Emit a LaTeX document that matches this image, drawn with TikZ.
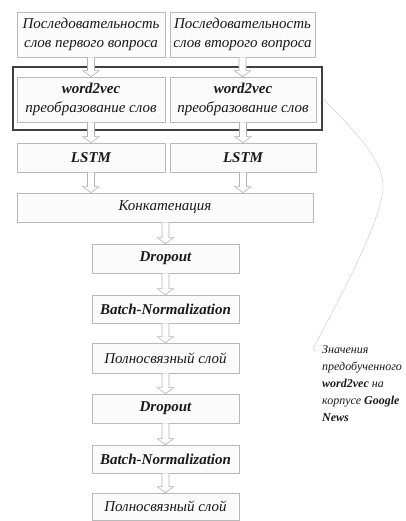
\documentclass[tikz,border=0pt]{standalone}
\usepackage{fontspec}
\setmainfont{Liberation Serif}
\usetikzlibrary{calc}

% hollow block arrow between two points (downwards)
\newcommand{\hollowarrow}[2]{%
  \draw[arrowline] let \p1=(#1), \p2=(#2) in
    (\x1-3.5pt,\y1) -- (\x1-3.5pt,\y2+6pt) -- (\x1-8pt,\y2+6pt) -- (\x1,\y2)
    -- (\x1+8pt,\y2+6pt) -- (\x1+3.5pt,\y2+6pt) -- (\x1+3.5pt,\y1);}

\begin{document}
\begin{tikzpicture}[x=1pt, y=1pt,
    layer/.style={draw=gray!55, fill=gray!3, line width=0.6pt, inner sep=1pt, align=center,
      text=black!90, font=\itshape\fontsize{15}{19}\selectfont},
    arrowline/.style={draw=gray!60, fill=white, line width=0.6pt},
    callout/.style={draw=gray!45, line width=0.4pt}]
    \useasboundingbox (0,0) rectangle (406,521);

    % Frame round the word2vec stage
    \node[draw=black!75, line width=1.3pt, minimum width=309, minimum height=63] (frame) at (167.5,422.5) {};

    % Input sequences
    \node[layer, minimum width=148, minimum height=45] (q1) at (91,486.5) {Последовательность\\слов первого вопроса};
    \node[layer, minimum width=145, minimum height=45] (q2) at (242.5,486.5) {Последовательность\\слов второго вопроса};

    % word2vec
    \node[layer, minimum width=148, minimum height=45] (w1) at (91,421.5) {\textbf{word2vec}\\преобразование слов};
    \node[layer, minimum width=146, minimum height=45] (w2) at (243,421.5) {\textbf{word2vec}\\преобразование слов};

    % LSTM
    \node[layer, minimum width=148, minimum height=29] (l1) at (91,363.5) {\textbf{LSTM}};
    \node[layer, minimum width=146, minimum height=29] (l2) at (243,363.5) {\textbf{LSTM}};

    % Joint part
    \node[layer, minimum width=296, minimum height=29] (concat) at (165,313.5) {Конкатенация};
    \node[layer, minimum width=147, minimum height=29] (drop1) at (165.5,262.5) {\textbf{Dropout}};
    \node[layer, minimum width=147, minimum height=28] (norm1) at (165.5,212) {\textbf{Batch-Normalization}};
    \node[layer, minimum width=147, minimum height=30] (dense1) at (165.5,163) {Полносвязный слой};
    \node[layer, minimum width=147, minimum height=29] (drop2) at (165.5,112.5) {\textbf{Dropout}};
    \node[layer, minimum width=147, minimum height=28] (norm2) at (165.5,62) {\textbf{Batch-Normalization}};
    \node[layer, minimum width=147, minimum height=27] (dense2) at (165.5,14.5) {Полносвязный слой};

    % Arrows
    \hollowarrow{q1.south}{w1.north}
    \hollowarrow{q2.south}{w2.north}
    \hollowarrow{w1.south}{l1.north}
    \hollowarrow{w2.south}{l2.north}
    \hollowarrow{l1.south}{l1.south |- concat.north}
    \hollowarrow{l2.south}{l2.south |- concat.north}
    \hollowarrow{concat.south -| drop1}{drop1.north}
    \hollowarrow{drop1.south}{norm1.north}
    \hollowarrow{norm1.south}{dense1.north}
    \hollowarrow{dense1.south}{drop2.north}
    \hollowarrow{drop2.south}{norm2.north}
    \hollowarrow{norm2.south}{dense2.north}

    % Note on pretrained vectors
    \node[anchor=north west, align=left, inner sep=0pt, text=black!90,
      font=\itshape\fontsize{12}{17}\selectfont] (note) at (322,176) {Значения\\предобученного\\\textbf{word2vec} на\\корпусе \textbf{Google}\\\textbf{News}};
    \coordinate (hook) at (321,170);
    \draw[callout] (frame.east) .. controls (360,385) and (383,360) .. (383,334)
      .. controls (383,300) and (330,205) .. (315,176) .. controls (312,170) .. (hook);
\end{tikzpicture}
\end{document}
